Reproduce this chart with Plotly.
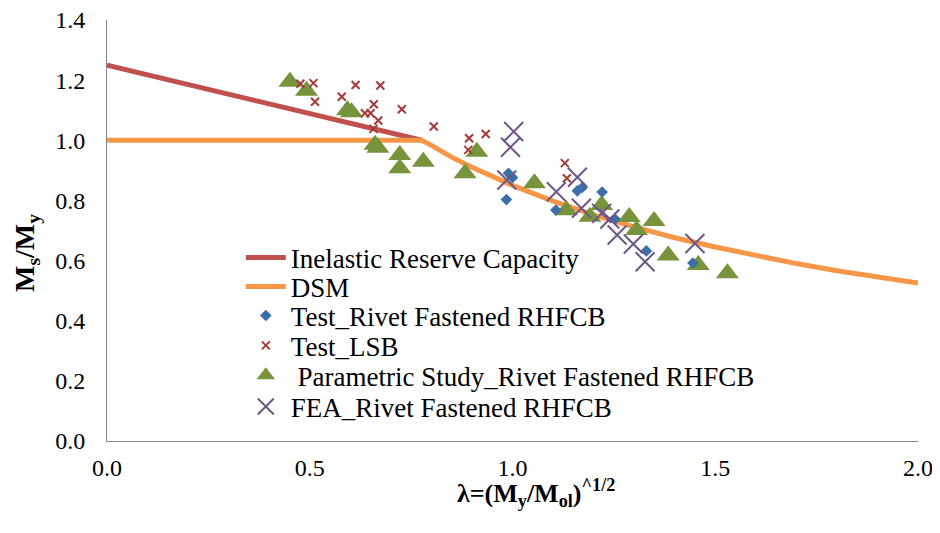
import plotly.graph_objects as go

# ---- data ----
irc_x = [0.0, 0.776]
irc_y = [1.25, 1.0]

dsm_x = [0.0, 0.776, 0.80, 0.85, 0.9, 0.95, 1.0, 1.1, 1.2, 1.3, 1.4, 1.5, 1.6, 1.7, 1.8, 1.9, 2.0]
dsm_y = [1.0, 1.0, 0.983, 0.944, 0.910, 0.879, 0.850, 0.798, 0.752, 0.712, 0.676, 0.645, 0.616, 0.590, 0.566, 0.545, 0.525]

test_rivet_x = [0.985, 0.990, 1.000, 1.107, 1.160, 1.172, 1.221, 1.253, 1.330, 1.445]
test_rivet_y = [0.803, 0.890, 0.876, 0.768, 0.832, 0.843, 0.828, 0.738, 0.632, 0.592]

test_lsb_x = [0.477, 0.509, 0.513, 0.579, 0.613, 0.674, 0.658, 0.636, 0.650, 0.669, 0.657,
              0.727, 0.806, 0.893, 0.934, 0.891, 1.129, 1.134]
test_lsb_y = [1.188, 1.190, 1.128, 1.145, 1.184, 1.182, 1.120, 1.090, 1.090, 1.066, 1.038,
              1.103, 1.046, 1.007, 1.021, 0.968, 0.924, 0.874]

param_x = [0.451, 0.492, 0.593, 0.603, 0.661, 0.668, 0.722, 0.722, 0.780, 0.883, 0.912,
           1.054, 1.133, 1.191, 1.220, 1.288, 1.306, 1.349, 1.384, 1.458, 1.530]
param_y = [1.195, 1.165, 1.100, 1.093, 0.985, 0.975, 0.951, 0.907, 0.929, 0.890, 0.962,
           0.857, 0.767, 0.746, 0.785, 0.745, 0.702, 0.732, 0.617, 0.585, 0.558]

fea_x = [1.003, 0.995, 0.986, 1.108, 1.160, 1.170, 1.220, 1.240, 1.258, 1.298, 1.327, 1.450]
fea_y = [1.029, 0.977, 0.868, 0.829, 0.877, 0.774, 0.757, 0.738, 0.685, 0.655, 0.596, 0.657]

x_ticks = [0.0, 0.5, 1.0, 1.5, 2.0]
y_ticks = [0.0, 0.2, 0.4, 0.6, 0.8, 1.0, 1.2, 1.4]

x_title = "<b>λ=(M<sub>y</sub>/M<sub>ol</sub>)<sup>^1/2</sup></b>"
y_title = "<b>M<sub>s</sub>/M<sub>y</sub></b>"

FONT = "Liberation Serif, Times New Roman, serif"

fig = go.Figure()
fig.add_trace(go.Scatter(x=irc_x, y=irc_y, mode="lines", name="Inelastic Reserve Capacity",
                         legend="legend", line=dict(color="#C0504D", width=5)))
fig.add_trace(go.Scatter(x=dsm_x, y=dsm_y, mode="lines", name="DSM",
                         legend="legend2", line=dict(color="#F79646", width=5)))
fig.add_trace(go.Scatter(x=param_x, y=param_y, mode="markers",
                         name=" Parametric Study_Rivet Fastened RHFCB", legend="legend5",
                         marker=dict(symbol="triangle-up", size=20, color="#77933C")))
fig.add_trace(go.Scatter(x=test_rivet_x, y=test_rivet_y, mode="markers",
                         name="Test_Rivet Fastened RHFCB", legend="legend3",
                         marker=dict(symbol="diamond", size=9, color="#3C6EA8")))
fig.add_trace(go.Scatter(x=test_lsb_x, y=test_lsb_y, mode="markers",
                         name="Test_LSB", legend="legend4",
                         marker=dict(symbol="x-thin", size=8, color="#A33B37",
                                     line=dict(color="#A33B37", width=2))))
fig.add_trace(go.Scatter(x=fea_x, y=fea_y, mode="markers",
                         name="FEA_Rivet Fastened RHFCB", legend="legend6",
                         marker=dict(symbol="x-thin", size=19, color="#705587",
                                     line=dict(color="#705587", width=2))))

legend_y = [0.435, 0.366, 0.297, 0.226, 0.155, 0.081]
legend_common = dict(x=0.165, xanchor="left", yanchor="middle",
                     bgcolor="rgba(0,0,0,0)", font=dict(size=27, family=FONT),
                     itemwidth=40, borderwidth=0)
legends = {}
for i, yy in enumerate(legend_y):
    key = "legend" if i == 0 else f"legend{i + 1}"
    legends[key] = dict(legend_common, y=yy)

fig.update_layout(
    width=940, height=533,
    margin=dict(l=99, r=30, t=12, b=100),
    paper_bgcolor="white", plot_bgcolor="white",
    font=dict(family=FONT, size=24, color="black"),
    showlegend=True,
    **legends,
    xaxis=dict(range=[0, 2.0], tickvals=x_ticks, tickformat=".1f", automargin=False,
               ticklabeloverflow="allow",
               showgrid=False, zeroline=False, showline=True, linecolor="#868686",
               linewidth=1, ticks="", ticklabelstandoff=5),
    yaxis=dict(range=[0, 1.4], tickvals=y_ticks, tickformat=".1f", automargin=False,
               ticklabeloverflow="allow",
               showgrid=False, zeroline=False, showline=True, linecolor="#868686",
               linewidth=1, ticks="", ticklabelstandoff=16),
    annotations=[
        dict(text=x_title, xref="paper", yref="paper", x=0.529, y=-0.1235,
             xanchor="center", yanchor="middle", showarrow=False,
             font=dict(size=26, family=FONT)),
        dict(text=y_title, xref="paper", yref="paper", x=-0.0986, y=0.4466,
             xanchor="center", yanchor="middle", showarrow=False, textangle=-90,
             font=dict(size=28, family=FONT)),
    ],
)

fig.write_html("out.html")
